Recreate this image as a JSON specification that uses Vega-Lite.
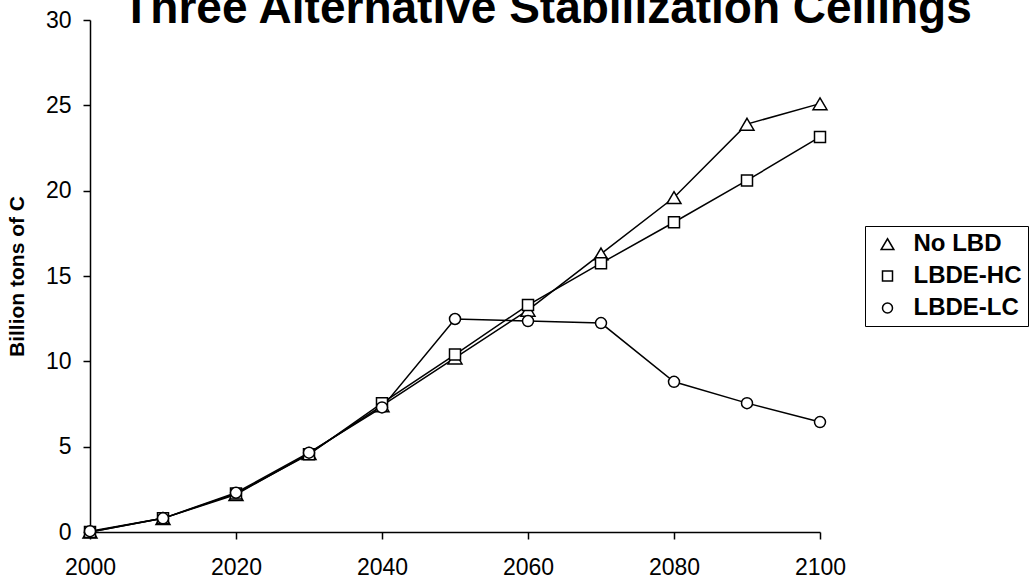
{
  "$schema": "https://vega.github.io/schema/vega-lite/v6.json",
  "width": 730,
  "height": 512,
  "autosize": "none",
  "padding": {"left": 90, "top": 20, "right": 215, "bottom": 53},
  "background": "white",
  "config": {
    "font": "Liberation Sans",
    "view": {"stroke": null},
    "axis": {"grid": false, "domainColor": "black", "domainWidth": 1.5, "tickColor": "black", "tickWidth": 1.5, "tickSize": 7, "labelColor": "black", "labelFont": "Liberation Sans", "titleFont": "Liberation Sans", "titleColor": "black"}
  },
  "title": {
    "text": "Three Alternative Stabilization Ceilings",
    "font": "Liberation Sans",
    "fontSize": 46,
    "fontWeight": "bold",
    "color": "black",
    "frame": "group",
    "anchor": "middle",
    "dx": 92,
    "dy": 60,
    "baseline": "alphabetic",
    "offset": 0
  },
  "data": {
    "values": [
      {"year": 2000, "series": "No LBD", "value": 0.0},
      {"year": 2010, "series": "No LBD", "value": 0.8},
      {"year": 2020, "series": "No LBD", "value": 2.2},
      {"year": 2030, "series": "No LBD", "value": 4.6},
      {"year": 2040, "series": "No LBD", "value": 7.4},
      {"year": 2050, "series": "No LBD", "value": 10.2},
      {"year": 2060, "series": "No LBD", "value": 13.0},
      {"year": 2070, "series": "No LBD", "value": 16.3},
      {"year": 2080, "series": "No LBD", "value": 19.6},
      {"year": 2090, "series": "No LBD", "value": 23.9},
      {"year": 2100, "series": "No LBD", "value": 25.1},
      {"year": 2000, "series": "LBDE-HC", "value": 0.0},
      {"year": 2010, "series": "LBDE-HC", "value": 0.8},
      {"year": 2020, "series": "LBDE-HC", "value": 2.25},
      {"year": 2030, "series": "LBDE-HC", "value": 4.55},
      {"year": 2040, "series": "LBDE-HC", "value": 7.55},
      {"year": 2050, "series": "LBDE-HC", "value": 10.4},
      {"year": 2060, "series": "LBDE-HC", "value": 13.3},
      {"year": 2070, "series": "LBDE-HC", "value": 15.75},
      {"year": 2080, "series": "LBDE-HC", "value": 18.15},
      {"year": 2090, "series": "LBDE-HC", "value": 20.6},
      {"year": 2100, "series": "LBDE-HC", "value": 23.15},
      {"year": 2000, "series": "LBDE-LC", "value": 0.05},
      {"year": 2010, "series": "LBDE-LC", "value": 0.8},
      {"year": 2020, "series": "LBDE-LC", "value": 2.3},
      {"year": 2030, "series": "LBDE-LC", "value": 4.65},
      {"year": 2040, "series": "LBDE-LC", "value": 7.3},
      {"year": 2050, "series": "LBDE-LC", "value": 12.48},
      {"year": 2060, "series": "LBDE-LC", "value": 12.36},
      {"year": 2070, "series": "LBDE-LC", "value": 12.24},
      {"year": 2080, "series": "LBDE-LC", "value": 8.8},
      {"year": 2090, "series": "LBDE-LC", "value": 7.55},
      {"year": 2100, "series": "LBDE-LC", "value": 6.44}
    ]
  },
  "encoding": {
    "x": {
      "field": "year",
      "type": "quantitative",
      "scale": {"domain": [2000, 2100], "nice": false, "zero": false},
      "axis": {"title": null, "values": [2000, 2020, 2040, 2060, 2080, 2100], "format": "d", "labelFontSize": 23, "labelPadding": 17, "labelFlush": false}
    },
    "y": {
      "field": "value",
      "type": "quantitative",
      "scale": {"domain": [0, 30], "nice": false},
      "axis": {"title": "Billion tons of C", "titleFontSize": 21, "titleFontWeight": "bold", "titlePadding": 18, "values": [0, 5, 10, 15, 20, 25, 30], "labelFontSize": 23, "labelPadding": 12}
    }
  },
  "layer": [
    {
      "mark": {"type": "line", "color": "black", "strokeWidth": 1.5},
      "encoding": {"detail": {"field": "series"}}
    },
    {
      "mark": {"type": "point", "filled": false, "fill": "white", "fillOpacity": 1, "stroke": "black", "strokeWidth": 1.5, "opacity": 1, "size": 121},
      "encoding": {
        "shape": {
          "field": "series",
          "type": "nominal",
          "scale": {"domain": ["No LBD", "LBDE-HC", "LBDE-LC"], "range": ["M0,-1.05L1.27,1.1L-1.27,1.1Z", "square", "circle"]},
          "legend": {
            "title": null,
            "orient": "none",
            "legendX": 775,
            "legendY": 206,
            "padding": 6,
            "strokeColor": "black",
            "fillColor": "white",
            "labelFontSize": 24,
            "labelFontWeight": "bold",
            "labelColor": "black",
            "labelFont": "Liberation Sans",
            "symbolSize": 100,
            "symbolOffset": 4.5,
            "labelOffset": 14,
            "rowPadding": 8
          }
        }
      }
    }
  ]
}
